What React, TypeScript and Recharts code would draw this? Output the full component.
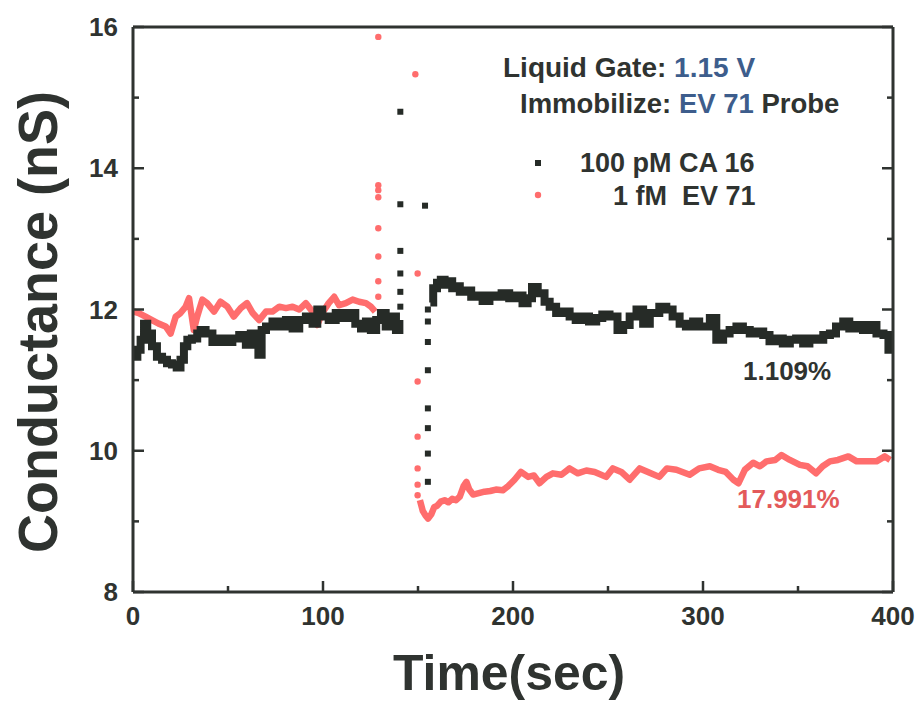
import { ComposedChart, Line, Scatter, XAxis, YAxis, Legend } from "recharts"

const INK = "#2f3330"
const BLUE = "#3d5d8c"
const BLACK = "#262b27"
const RED = "#ff6d6d"
const RED_TEXT = "#e35a5a"
const FONT = "'Liberation Sans', Arial, Helvetica, sans-serif"

const xTicks = [0, 50, 100, 150, 200, 250, 300, 350, 400]
const yTicks = [8, 9, 10, 11, 12, 13, 14, 15, 16]
const seriesNames = ["100 pM CA 16", "1 fM  EV 71"]

// [time (sec), conductance (nS)]
const blackBefore = [
  [0.5, 11.33], [2.3, 11.43], [4, 11.57], [5.8, 11.8], [7.5, 11.66], [10, 11.48], [12.6, 11.33], [15.3, 11.29],
  [17.9, 11.24], [20.5, 11.22], [23, 11.18], [25, 11.29], [26.8, 11.48], [28.6, 11.57], [31, 11.59], [33.8, 11.66],
  [35.6, 11.71], [38.2, 11.66], [41.8, 11.54], [45.3, 11.59], [48.8, 11.54], [52.3, 11.59], [55.9, 11.64], [59.4, 11.5],
  [62, 11.66], [64.6, 11.59], [66, 11.36], [67.7, 11.71], [70, 11.76], [73.4, 11.83], [77, 11.76], [80.5, 11.85],
  [84, 11.73], [87.5, 11.85], [91, 11.9], [94.5, 11.8], [97, 12.0], [99.6, 11.9], [103, 11.85], [106.7, 11.95],
  [110, 11.88], [113.8, 11.95], [117, 11.8], [120, 11.73], [122.6, 11.83], [125.2, 11.71], [128, 11.85], [130.5, 11.95],
  [133, 11.76], [135.8, 11.9], [138.4, 11.71], [140.2, 11.85],
]
const blackJump = [
  [140.7, 14.8], [140.7, 13.49], [140.7, 12.83], [140.7, 12.51], [140.7, 12.25], [140.7, 12.04],
  [153.7, 13.47],
  [155.2, 12.0], [155.2, 11.83], [155.2, 11.54], [155.2, 11.14], [155.2, 10.6], [155.2, 10.32], [155.2, 9.96], [155.2, 9.56],
]
const blackAfter = [
  [156.5, 12.1], [158, 12.3], [160, 12.38], [162, 12.42], [164, 12.35], [166, 12.4], [168, 12.3], [170, 12.33],
  [172, 12.25], [175, 12.27], [178, 12.18], [181, 12.2], [184, 12.12], [187.6, 12.2], [191, 12.18], [194, 12.23],
  [198, 12.16], [201, 12.2], [205, 12.09], [207.7, 12.16], [210, 12.32], [213, 12.23], [216.6, 12.11], [219.3, 12.04],
  [222.7, 11.95], [226, 11.97], [229.8, 11.9], [233, 11.85], [236.8, 11.9], [240, 11.83], [243.8, 11.88], [247, 11.93],
  [250.8, 11.9], [255, 11.71], [258, 11.78], [261.4, 11.9], [265, 12.0], [268.5, 11.8], [272, 11.95], [277, 12.04],
  [280.7, 12.0], [284, 11.9], [287.7, 11.8], [291, 11.76], [294.8, 11.83], [298, 11.76], [303.6, 11.88], [307, 11.57],
  [310.6, 11.66], [314, 11.71], [317.6, 11.76], [321, 11.71], [324.6, 11.66], [328, 11.69], [331.7, 11.64], [335, 11.55],
  [338.8, 11.59], [342, 11.52], [345.7, 11.57], [349, 11.59], [352.7, 11.52], [356, 11.59], [360, 11.57], [363.3, 11.64],
  [366.8, 11.66], [370, 11.76], [373.8, 11.83], [377, 11.73], [380.9, 11.78], [384.2, 11.71], [387.9, 11.78], [391.3, 11.66],
  [395, 11.64], [397.6, 11.43], [399.5, 11.5],
]
const redBefore = [
  [0.5, 11.97], [3, 11.95], [6.6, 11.9], [10, 11.85], [13.5, 11.8], [17.2, 11.76], [19.8, 11.66], [22.5, 11.9],
  [25, 11.95], [27.7, 12.04], [29.5, 12.16], [32, 11.71], [33.8, 11.9], [36.5, 12.14], [39, 12.09], [42.7, 11.97],
  [46, 12.11], [49.7, 12.04], [53, 11.9], [56.7, 12.02], [60, 12.09], [63, 11.95], [66.4, 11.85], [70, 11.97],
  [73.4, 11.97], [77, 12.04], [80.5, 12.02], [84, 12.04], [87.5, 12.0], [91, 12.09], [94.5, 11.97], [97, 11.78],
  [99.6, 11.95], [103, 12.09], [105.9, 12.18], [108.5, 12.06], [112, 12.09], [115.6, 12.14], [119, 12.11], [122.6, 12.09],
  [125.2, 12.04], [127.5, 11.97],
]
const redJump = [
  [129.1, 12.18], [129.1, 12.4], [129.1, 12.75], [129.1, 13.15], [129.1, 13.59], [129.1, 13.69], [129.1, 13.76], [129.1, 15.86],
  [148.6, 15.33],
  [149.8, 12.51], [149.8, 10.98], [149.8, 10.2], [149.8, 9.75], [149.8, 9.52], [149.8, 9.37],
]
const redAfter = [
  [151, 9.3], [152.5, 9.15], [154, 9.08], [155.3, 9.04], [157, 9.1], [158.5, 9.2], [160, 9.22], [162, 9.28],
  [164, 9.3], [166, 9.27], [168, 9.32], [170, 9.3], [172, 9.35], [174, 9.5], [175.5, 9.56], [177, 9.45],
  [179, 9.38], [182, 9.4], [185, 9.42], [188, 9.43], [191, 9.45], [194.6, 9.44], [197.5, 9.5], [200.8, 9.59],
  [204.2, 9.7], [208, 9.63], [211, 9.65], [214, 9.54], [217.6, 9.63], [221, 9.68], [225.5, 9.66], [229.8, 9.75],
  [234, 9.68], [238.6, 9.72], [243, 9.7], [249, 9.63], [252.6, 9.75], [257, 9.7], [261.4, 9.59], [266.7, 9.75],
  [271, 9.7], [277, 9.63], [281, 9.75], [286, 9.73], [293, 9.66], [298, 9.75], [303.6, 9.78], [308, 9.73],
  [312, 9.7], [316, 9.59], [318.7, 9.54], [322, 9.73], [326.4, 9.83], [330, 9.78], [333.4, 9.85], [338, 9.87],
  [341.3, 9.94], [345.7, 9.87], [351, 9.8], [355, 9.78], [359.5, 9.68], [363, 9.78], [366.8, 9.85], [371, 9.87],
  [376.5, 9.92], [380.9, 9.85], [386, 9.85], [391.3, 9.85], [395.7, 9.92], [398.5, 9.87],
]

const toPts = (rows: number[][]) => rows.map(([t, c]) => ({ t, c }))

const tickText = { fontSize: 26, fontWeight: "bold" as const, fill: INK, fontFamily: FONT }

function BottomTick({ x, y, payload }: any) {
  const major = payload.value % 100 === 0
  return (
    <g>
      <line x1={x} y1={y} x2={x} y2={y - (major ? 11 : 6)} stroke={INK} strokeWidth={2.5} />
      {major && <text x={x} y={y + 33} textAnchor="middle" {...tickText}>{payload.value}</text>}
    </g>
  )
}

function TopTick({ x, y, payload }: any) {
  const major = payload.value % 100 === 0
  return <line x1={x} y1={y} x2={x} y2={y + (major ? 11 : 6)} stroke={INK} strokeWidth={2.5} />
}

function LeftTick({ x, y, payload }: any) {
  const major = payload.value % 2 === 0
  return (
    <g>
      <line x1={x} y1={y} x2={x + (major ? 11 : 6)} y2={y} stroke={INK} strokeWidth={2.5} />
      {major && <text x={x - 15} y={y + 9} textAnchor="end" {...tickText}>{payload.value}</text>}
    </g>
  )
}

function RightTick({ x, y, payload }: any) {
  const major = payload.value % 2 === 0
  return <line x1={x} y1={y} x2={x - (major ? 11 : 6)} y2={y} stroke={INK} strokeWidth={2.5} />
}

const SquareDot = (p: any) => <rect x={p.cx - 3} y={p.cy - 3} width={6} height={6} fill={BLACK} />
const RoundDot = (p: any) => <circle cx={p.cx} cy={p.cy} r={3.2} fill={RED} />

function renderLegend() {
  return (
    <svg width={260} height={70} style={{ fontFamily: FONT, fontWeight: "bold" }}>
      <rect x={15} y={15} width={6} height={6} fill={BLACK} />
      <text x={60} y={27} fontSize={27} fill={INK} style={{ whiteSpace: "pre" }}>{seriesNames[0]}</text>
      <circle cx={18} cy={50} r={3.2} fill={RED} />
      <text x={93} y={60} fontSize={27} fill={INK} style={{ whiteSpace: "pre" }}>{seriesNames[1]}</text>
    </svg>
  )
}

const axisLine = { stroke: INK, strokeWidth: 3 }

export default function App() {
  return (
    <div style={{ position: "absolute", left: 0, top: 0, width: 922, height: 705, background: "#fff" }}>
      <ComposedChart width={922} height={705} margin={{ top: 26, right: 28, bottom: 53, left: 73 }}>
        <XAxis
          type="number"
          dataKey="t"
          domain={[0, 400]}
          ticks={xTicks}
          interval={0}
          allowDataOverflow
          height={60}
          tickSize={0}
          tickMargin={0}
          tickLine={false}
          axisLine={axisLine}
          tick={BottomTick}
          label={() => (
            <text x={509} y={690} textAnchor="middle" fontSize={50} fontWeight="bold" fill={INK} fontFamily={FONT} textLength={232} lengthAdjust="spacingAndGlyphs">
              Time(sec)
            </text>
          )}
        />
        <XAxis
          xAxisId="top"
          orientation="top"
          type="number"
          domain={[0, 400]}
          ticks={xTicks}
          interval={0}
          allowDataOverflow
          height={1}
          tickSize={0}
          tickMargin={0}
          tickLine={false}
          axisLine={axisLine}
          tick={TopTick}
        />
        <YAxis
          type="number"
          dataKey="c"
          domain={[8, 16]}
          ticks={yTicks}
          interval={0}
          allowDataOverflow
          width={60}
          tickSize={0}
          tickMargin={0}
          tickLine={false}
          axisLine={axisLine}
          tick={LeftTick}
          label={() => (
            <text x={57} y={322} transform="rotate(-90, 57, 322)" textAnchor="middle" fontSize={56} fontWeight="bold" fill={INK} fontFamily={FONT} textLength={462} lengthAdjust="spacingAndGlyphs">
              Conductance (nS)
            </text>
          )}
        />
        <YAxis
          yAxisId="right"
          orientation="right"
          type="number"
          domain={[8, 16]}
          ticks={yTicks}
          interval={0}
          allowDataOverflow
          width={1}
          tickSize={0}
          tickMargin={0}
          tickLine={false}
          axisLine={axisLine}
          tick={RightTick}
        />
        <Line data={toPts(redBefore)} dataKey="c" stroke={RED} strokeWidth={6.5} strokeLinejoin="round" dot={false} isAnimationActive={false} name={seriesNames[1]} />
        <Line data={toPts(redAfter)} dataKey="c" stroke={RED} strokeWidth={6.5} strokeLinejoin="round" dot={false} isAnimationActive={false} />
        <Scatter data={toPts(redJump)} dataKey="c" shape={RoundDot} isAnimationActive={false} />
        <Line data={toPts(blackBefore)} type="stepAfter" dataKey="c" stroke={BLACK} strokeWidth={8} dot={false} isAnimationActive={false} name={seriesNames[0]} />
        <Line data={toPts(blackAfter)} type="stepAfter" dataKey="c" stroke={BLACK} strokeWidth={8} dot={false} isAnimationActive={false} />
        <Scatter data={toPts(blackJump)} dataKey="c" shape={SquareDot} isAnimationActive={false} />
        <Legend
          layout="horizontal"
          verticalAlign="middle"
          align="center"
          content={renderLegend}
          wrapperStyle={{ left: 520, top: 145, width: 260, height: 70 }}
        />
      </ComposedChart>
      <svg
        width={922}
        height={705}
        style={{ position: "absolute", left: 0, top: 0, pointerEvents: "none", fontFamily: FONT, fontWeight: "bold" }}
      >
        <text x={503} y={77} fontSize={28} fill={INK}>
          Liquid Gate: <tspan fill={BLUE}>1.15 V</tspan>
        </text>
        <text x={520} y={113} fontSize={27.5} fill={INK}>
          Immobilize: <tspan fill={BLUE}>EV 71</tspan> Probe
        </text>
        <text x={743} y={380} fontSize={26} fill={INK}>1.109%</text>
        <text x={737} y={508} fontSize={26} fill={RED_TEXT}>17.991%</text>
      </svg>
    </div>
  )
}
